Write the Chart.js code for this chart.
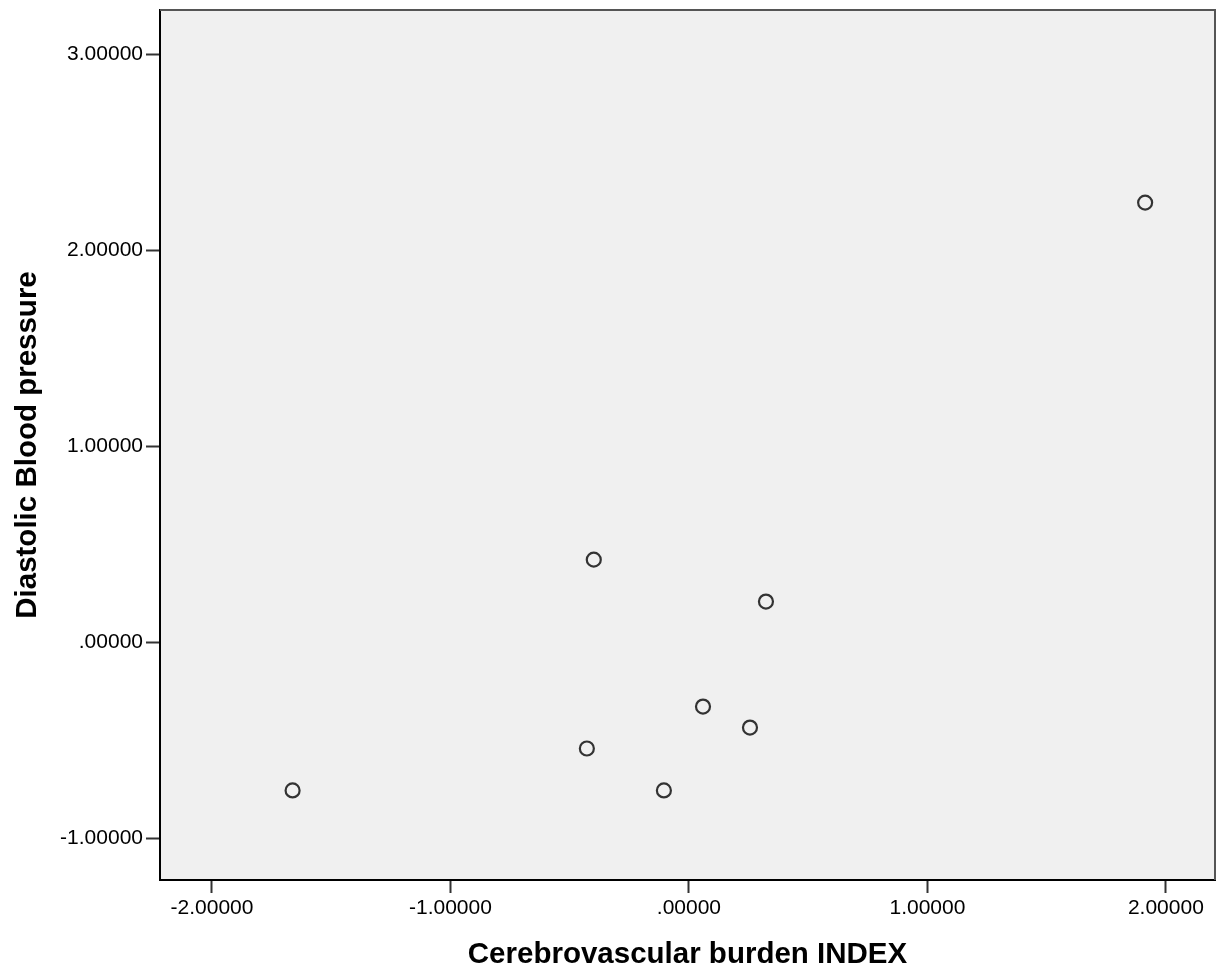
<!DOCTYPE html>
<html>
<head>
<meta charset="utf-8">
<script src="https://cdn.jsdelivr.net/npm/chart.js@4"></script>
<style>
  body { margin: 0; background: #fff; }
</style>
</head>
<body>
<canvas id="scatter" width="1219" height="973"></canvas>
<script>
// valores
var xIndex = [1.913, -0.399, 0.323, 0.059, 0.256, -0.428, -0.105, -1.662];
var yPresion = [2.245, 0.423, 0.209, -0.327, -0.434, -0.541, -0.755, -0.755];
var xTicks = [-2, -1, 0, 1, 2];
var yTicks = [-1, 0, 1, 2, 3];

var puntos = xIndex.map(function (x, i) {
  return { x: x, y: yPresion[i] };
});

function formato(v) {
  var s = Number(v).toFixed(5);
  if (s.indexOf('0.') === 0) s = s.substring(1);
  return s;
}

var fondo = {
  id: 'fondo',
  beforeDraw: function (chart) {
    var a = chart.chartArea, c = chart.ctx;
    c.save();
    c.fillStyle = '#f0f0f0';
    c.fillRect(a.left, a.top, a.right - a.left, a.bottom - a.top);
    c.restore();
  },
  afterDraw: function (chart) {
    var a = chart.chartArea, c = chart.ctx;
    c.save();
    c.strokeStyle = '#555';
    c.lineWidth = 2;
    c.beginPath();
    c.moveTo(a.left, a.top);
    c.lineTo(a.right, a.top);
    c.lineTo(a.right, a.bottom);
    c.stroke();
    c.restore();
  }
};

Chart.defaults.font.family = '"Liberation Sans", Arial, sans-serif';
Chart.defaults.color = '#000';

var ctx = document.getElementById('scatter').getContext('2d');
var grafico = new Chart(ctx, {
  type: 'scatter',
  data: {
    datasets: [{
      data: puntos,
      pointRadius: 7,
      pointHoverRadius: 7,
      pointBorderWidth: 2.2,
      pointBorderColor: '#333',
      pointBackgroundColor: 'rgba(0,0,0,0)'
    }]
  },
  options: {
    responsive: false,
    animation: false,
    layout: { autoPadding: false, padding: { top: 10, right: 4, left: 0, bottom: 0 } },
    plugins: { legend: { display: false }, tooltip: { enabled: false } },
    scales: {
      x: {
        type: 'linear',
        min: -2.218,
        max: 2.206,
        afterBuildTicks: function (s) { s.ticks = xTicks.map(function (v) { return { value: v }; }); },
        afterFit: function (s) { s.height = 93; s.paddingLeft = 0; s.paddingRight = 0; },
        ticks: { callback: formato, font: { size: 21 }, padding: 3, maxRotation: 0 },
        grid: { drawOnChartArea: false, drawTicks: true, tickLength: 13, tickColor: '#333', tickWidth: 2 },
        border: { display: true, color: '#000', width: 2 },
        title: { display: true, text: 'Cerebrovascular burden INDEX', font: { size: 29.5, weight: 'bold' }, padding: 0 }
      },
      y: {
        type: 'linear',
        min: -1.212,
        max: 3.228,
        afterBuildTicks: function (s) { s.ticks = yTicks.map(function (v) { return { value: v }; }); },
        afterFit: function (s) { s.width = 160; s.paddingTop = 0; s.paddingBottom = 0; },
        ticks: { callback: formato, font: { size: 21 }, padding: 3 },
        grid: { drawOnChartArea: false, drawTicks: true, tickLength: 14, tickColor: '#333', tickWidth: 2 },
        border: { display: true, color: '#000', width: 2 },
        title: { display: true, text: 'Diastolic Blood pressure', font: { size: 29.5, weight: 'bold' }, padding: { top: 10, bottom: 0 } }
      }
    }
  },
  plugins: [fondo]
});
</script>
</body>
</html>
